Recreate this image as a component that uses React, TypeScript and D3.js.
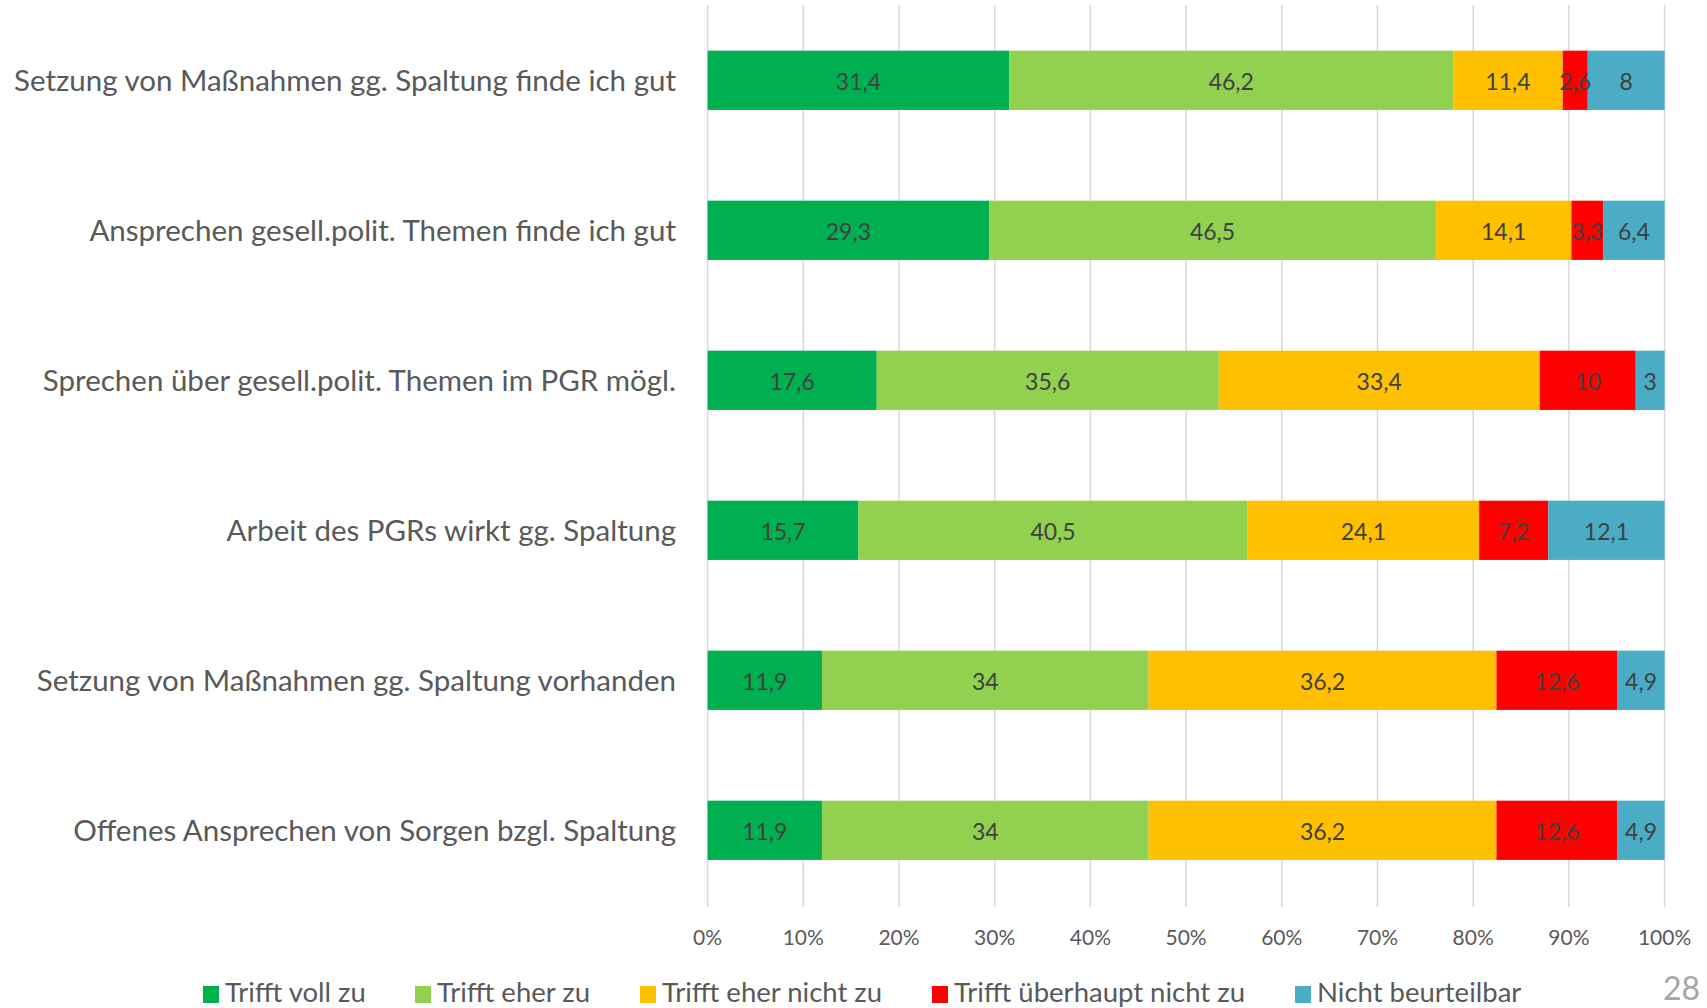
import React from 'react';
import * as d3 from 'd3';

const categories = [
  'Setzung von Maßnahmen gg. Spaltung finde ich gut',
  'Ansprechen gesell.polit. Themen finde ich gut',
  'Sprechen über gesell.polit. Themen im PGR mögl.',
  'Arbeit des PGRs wirkt gg. Spaltung',
  'Setzung von Maßnahmen gg. Spaltung vorhanden',
  'Offenes Ansprechen von Sorgen bzgl. Spaltung',
];

const seriesNames = [
  'Trifft voll zu',
  'Trifft eher zu',
  'Trifft eher nicht zu',
  'Trifft überhaupt nicht zu',
  'Nicht beurteilbar',
];

const trifftVoll = [31.4, 29.3, 17.6, 15.7, 11.9, 11.9];
const trifftEher = [46.2, 46.5, 35.6, 40.5, 34, 34];
const eherNicht = [11.4, 14.1, 33.4, 24.1, 36.2, 36.2];
const ueberhauptNicht = [2.6, 3.3, 10, 7.2, 12.6, 12.6];
const nichtBeurteilbar = [8, 6.4, 3, 12.1, 4.9, 4.9];

const colors = ['#00B050', '#92D050', '#FFC000', '#FF0000', '#4BACC6'];
const xTicks = [0, 0.1, 0.2, 0.3, 0.4, 0.5, 0.6, 0.7, 0.8, 0.9, 1];
const legendX = [203, 415, 640, 932, 1295];
const pageNumber = '28';

const W = 1707;
const H = 1008;
const FONT = 'Lato, "Open Sans", sans-serif';

export default function App() {
  const seriesValues = [trifftVoll, trifftEher, eherNicht, ueberhauptNicht, nichtBeurteilbar];
  const rows = categories.map((c, i) => {
    const r: Record<string, any> = { cat: c };
    seriesNames.forEach((s, k) => (r[s] = seriesValues[k][i]));
    return r;
  });

  // 100% stacked: every bar is normalised to the full width
  const stacked = d3.stack<any>().keys(seriesNames).offset(d3.stackOffsetExpand)(rows);

  const x = d3.scaleLinear().domain([0, 1]).range([707.6, 1664.6]);
  const y = d3
    .scaleBand<string>()
    .domain(categories)
    .range([5.3, 905.3])
    .paddingInner(0.605)
    .paddingOuter(0.3025);

  const fmt = (v: number) => String(v).replace('.', ',');

  return (
    <svg width={W} height={H} style={{ position: 'absolute', left: 0, top: 0, background: '#fff' }}>
      {/* gridlines */}
      <g>
        {xTicks.map((t) => (
          <line key={t} x1={x(t)} x2={x(t)} y1={5} y2={907} stroke="#d9d9d9" strokeWidth={1.5} />
        ))}
      </g>

      {/* bars */}
      {stacked.map((s, k) => (
        <g key={s.key} fill={colors[k]}>
          {s.map((d, i) => (
            <rect
              key={i}
              x={x(d[0])}
              y={y(categories[i])}
              width={x(d[1]) - x(d[0])}
              height={y.bandwidth()}
            />
          ))}
        </g>
      ))}

      {/* data labels */}
      {stacked.map((s, k) => (
        <g key={'l' + s.key} fontFamily={FONT} fontSize={23} fill="#404040" textAnchor="middle">
          {s.map((d, i) => (
            <text key={i} x={(x(d[0]) + x(d[1])) / 2} y={y(categories[i])! + y.bandwidth() / 2 + 10}>
              {fmt(seriesValues[k][i])}
            </text>
          ))}
        </g>
      ))}

      {/* category labels */}
      <g fontFamily={FONT} fontSize={29.5} fill="#595959" textAnchor="end">
        {categories.map((c) => (
          <text key={c} x={676} y={y(c)! + y.bandwidth() / 2 + 10.5}>
            {c}
          </text>
        ))}
      </g>

      {/* x tick labels */}
      <g fontFamily={FONT} fontSize={21} fill="#595959" textAnchor="middle">
        {xTicks.map((t) => (
          <text key={t} x={x(t)} y={945}>
            {d3.format('.0%')(t)}
          </text>
        ))}
      </g>

      {/* legend */}
      <g fontFamily={FONT} fontSize={27.5} fill="#595959">
        {seriesNames.map((s, k) => (
          <g key={s}>
            <rect x={legendX[k]} y={986} width={16} height={17} fill={colors[k]} />
            <text x={legendX[k] + 22} y={1002}>
              {s}
            </text>
          </g>
        ))}
      </g>

      <text x={1700} y={1000} textAnchor="end" fontFamily={FONT} fontSize={32} fill="#a6a6a6">
        {pageNumber}
      </text>
    </svg>
  );
}
